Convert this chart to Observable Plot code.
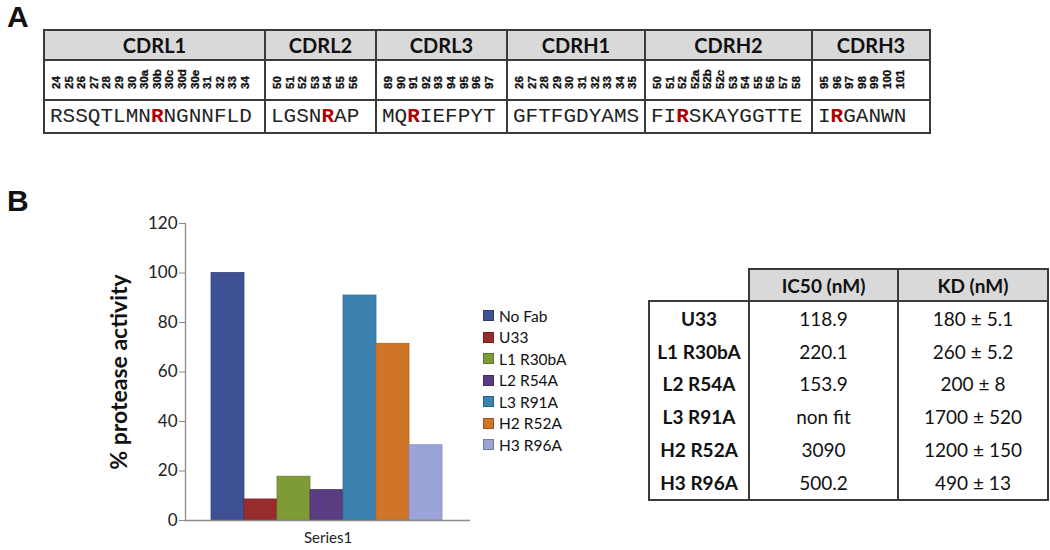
<!DOCTYPE html>
<html><head><meta charset="utf-8">
<script src="https://cdn.jsdelivr.net/npm/d3@7"></script>
<script src="https://cdn.jsdelivr.net/npm/@observablehq/plot@0.6"></script>
<style>
body{margin:0;background:#fff;}
#page{position:relative;width:1050px;height:550px;overflow:hidden;font-family:Lato,"Open Sans",sans-serif;color:#111;}
.panel{position:absolute;font-family:"Liberation Sans",Arial,sans-serif;font-weight:bold;font-size:30px;line-height:1;}
#tA{position:absolute;left:43px;top:29px;border-collapse:collapse;table-layout:fixed;}
#tA td,#tA th{border:2px solid #3a3a3a;padding:0;}
#tA th{background:#d9d9d9;height:28px;font-size:20px;text-align:center;font-weight:bold;}
#tA td.num{height:38px;vertical-align:top;}
#tA td.seq{height:31px;font-family:"Liberation Mono","Courier New",monospace;font-size:21px;padding-left:5px;white-space:nowrap;color:#222;}
.nums{display:flex;padding-left:5px;padding-top:7px;}
.nums span{display:inline-block;width:12.6px;height:21px;line-height:12.6px;writing-mode:vertical-rl;transform:rotate(180deg);font-family:"Liberation Sans",Arial,sans-serif;font-weight:bold;font-size:11.5px;-webkit-text-stroke:0.35px #111;text-align:start;color:#111;}
.hl{color:#b00000;font-weight:bold;}
#tB{position:absolute;left:648px;top:268px;border-collapse:collapse;table-layout:fixed;font-size:19px;}
#tB th{background:#d9d9d9;border:2px solid #3a3a3a;height:30px;font-weight:bold;text-align:center;padding:0;}
#tB th.blank{background:none;border:none;border-bottom:2px solid #3a3a3a;}
#tB td{border-left:2px solid #3a3a3a;border-right:2px solid #3a3a3a;height:32.8px;text-align:center;padding:0;}
#tB tbody tr:last-child td{border-bottom:2px solid #3a3a3a;}
#tB td.lab{font-weight:bold;}
#chart{position:absolute;left:0;top:180px;}
#legend{position:absolute;left:483px;top:305px;font-size:15.5px;}
#legend div{height:21.5px;display:flex;align-items:center;}
#legend i{display:inline-block;width:9px;height:9px;margin-right:5px;border:0.5px solid rgba(0,0,0,0.25);}
g[aria-label="y-axis tick label"] text{font-size:17px;fill:#222;}
g[aria-label="y-axis label"] text{font-size:23px;font-weight:bold;fill:#111;}
</style></head>
<body><div id="page">
<div class="panel" style="left:7px;top:2px;">A</div>
<div class="panel" style="left:7px;top:186px;">B</div>
</div>
<script>
// Panel A: CDR sequences
const cdrNames = ["CDRL1","CDRL2","CDRL3","CDRH1","CDRH2","CDRH3"];
const cdrNumbers = [
  ["24","25","26","27","28","29","30","30a","30b","30c","30d","30e","31","32","33","34"],
  ["50","51","52","53","54","55","56"],
  ["89","90","91","92","93","94","95","96","97"],
  ["26","27","28","29","30","31","32","33","34","35"],
  ["50","51","52","52a","52b","52c","53","54","55","56","57","58"],
  ["95","96","97","98","99","100","101"]
];
const cdrSequences = ["RSSQTLMNRNGNNFLD","LGSNRAP","MQRIEFPYT","GFTFGDYAMS","FIRSKAYGGTTE","IRGANWN"];
const cdrHighlight = [8, 4, 2, -1, 2, 1];
const cdrColWidths = [221,111,131,138,167,118];

// Panel B: bar chart
const series = ["No Fab","U33","L1 R30bA","L2 R54A","L3 R91A","H2 R52A","H3 R96A"];
const activity = [100, 8.5, 17.7, 12.3, 90.9, 71.4, 30.4];
const seriesColors = ["#3f5195","#962c2b","#7e9b36","#5a3c83","#3b82ae","#d07528","#9aa4d8"];
const yTicks = [0,20,40,60,80,100,120];
const yLabel = "% protease activity";
const xCategory = "Series1";

// Panel B: table
const tableHeaders = ["IC50 (nM)","KD (nM)"];
const mutants = ["U33","L1 R30bA","L2 R54A","L3 R91A","H2 R52A","H3 R96A"];
const ic50 = ["118.9","220.1","153.9","non fit","3090","500.2"];
const kd = ["180 ± 5.1","260 ± 5.2","200 ± 8","1700 ± 520","1200 ± 150","490  ± 13"];
const tableBColWidths = [100,149,150];

const page = document.getElementById("page");

// Table A
const tA = document.createElement("table"); tA.id = "tA";
const cgA = document.createElement("colgroup");
cdrColWidths.forEach(w => { const c = document.createElement("col"); c.style.width = w + "px"; cgA.appendChild(c); });
tA.appendChild(cgA);
const r1 = tA.insertRow(), r2 = tA.insertRow(), r3 = tA.insertRow();
cdrNames.forEach((name, i) => {
  const th = document.createElement("th"); th.textContent = name; r1.appendChild(th);
  const tdN = r2.insertCell(); tdN.className = "num";
  const wrap = document.createElement("div"); wrap.className = "nums";
  cdrNumbers[i].forEach(n => { const s = document.createElement("span"); s.textContent = n; wrap.appendChild(s); });
  tdN.appendChild(wrap);
  const tdS = r3.insertCell(); tdS.className = "seq";
  [...cdrSequences[i]].forEach((ch, j) => {
    if (j === cdrHighlight[i]) { const b = document.createElement("span"); b.className = "hl"; b.textContent = ch; tdS.appendChild(b); }
    else tdS.appendChild(document.createTextNode(ch));
  });
});
page.appendChild(tA);

// Chart
const barData = series.map((s, i) => ({s, v: activity[i], c: seriesColors[i]}));
const chart = Plot.plot({
  width: 480, height: 370,
  marginLeft: 185, marginRight: 10, marginTop: 43, marginBottom: 30,
  style: {background: "transparent", fontFamily: "Lato, sans-serif", overflow: "visible"},
  x: {type: "band", domain: series, range: [210, 443], padding: 0, axis: null},
  y: {domain: [0, 120], axis: null},
  marks: [
    Plot.barY(barData, {x: "s", y: "v", fill: d => d.c, stroke: d => d3.color(d.c).darker(0.4).formatHex(), strokeWidth: 0.8}),
    Plot.ruleY([0], {stroke: "#8a8a8a", strokeWidth: 1.3}),
    Plot.frame({anchor: "left", stroke: "#8a8a8a", strokeWidth: 1.3}),
    Plot.axisY({ticks: yTicks, tickSize: 6, tickPadding: 2, stroke: "#8a8a8a", label: yLabel, labelAnchor: "center", labelOffset: 75, labelArrow: "none"}),
    Plot.text([xCategory], {text: d => d, frameAnchor: "bottom", dy: 22, fontSize: 15, fill: "#222"})
  ]
});
chart.id = "chart";
page.appendChild(chart);

// Legend
const leg = document.createElement("div"); leg.id = "legend";
series.forEach((s, i) => {
  const row = document.createElement("div");
  const sw = document.createElement("i"); sw.style.background = seriesColors[i];
  row.appendChild(sw); row.appendChild(document.createTextNode(s));
  leg.appendChild(row);
});
page.appendChild(leg);

// Table B
const tB = document.createElement("table"); tB.id = "tB";
const cgB = document.createElement("colgroup");
tableBColWidths.forEach(w => { const c = document.createElement("col"); c.style.width = w + "px"; cgB.appendChild(c); });
tB.appendChild(cgB);
const thead = tB.createTHead(); const hr = thead.insertRow();
const blank = document.createElement("th"); blank.className = "blank"; hr.appendChild(blank);
tableHeaders.forEach(h => { const th = document.createElement("th"); th.textContent = h; hr.appendChild(th); });
const tbody = tB.createTBody();
mutants.forEach((m, i) => {
  const r = tbody.insertRow();
  const a = r.insertCell(); a.className = "lab"; a.textContent = m;
  r.insertCell().textContent = ic50[i];
  r.insertCell().textContent = kd[i];
});
page.appendChild(tB);
</script>
</body></html>
